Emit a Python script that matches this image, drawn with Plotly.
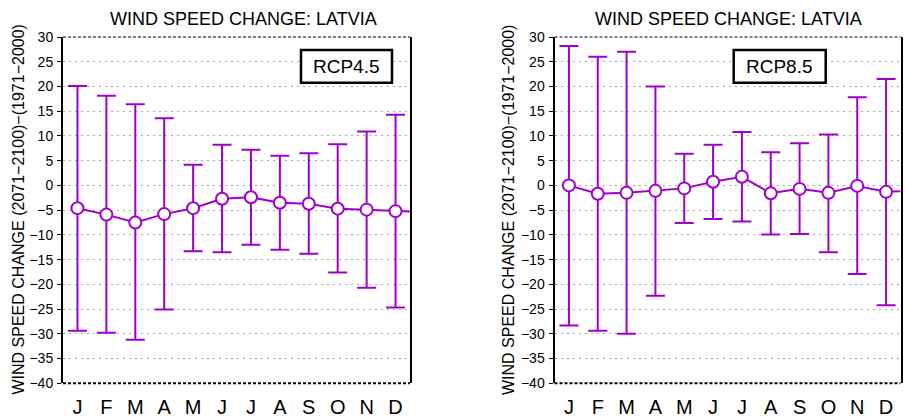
import plotly.graph_objects as go

W, H = 905, 418

months = ["J", "F", "M", "A", "M", "J", "J", "A", "S", "O", "N", "D"]
month_pos = list(range(1, 13))

rcp45_mean = [-4.6, -5.9, -7.5, -5.8, -4.6, -2.7, -2.4, -3.5, -3.7, -4.7, -4.9, -5.2]
rcp45_max = [20.1, 18.1, 16.4, 13.6, 4.2, 8.2, 7.2, 6.0, 6.5, 8.3, 10.9, 14.3]
rcp45_min = [-29.4, -29.8, -31.2, -25.1, -13.3, -13.5, -12.0, -13.0, -13.8, -17.6, -20.7, -24.7]
rcp45_tail = -5.4

rcp85_mean = [0.0, -1.7, -1.5, -1.1, -0.6, 0.75, 1.75, -1.6, -0.7, -1.5, -0.1, -1.3]
rcp85_max = [28.2, 26.0, 27.0, 20.0, 6.4, 8.2, 10.8, 6.7, 8.5, 10.3, 17.8, 21.5]
rcp85_min = [-28.3, -29.4, -30.0, -22.3, -7.6, -6.8, -7.3, -9.9, -9.8, -13.5, -17.9, -24.2]
rcp85_tail = -1.1

ytick_vals = list(range(-40, 31, 5))

PURPLE = "#a000cc"
FONT = "Liberation Sans, Arial, sans-serif"


def px_x(p):
    return p / W


def px_y(p):
    return 1 - p / H


panels = [
    dict(mean=rcp45_mean, mx=rcp45_max, mn=rcp45_min, tail=rcp45_tail, label="RCP4.5",
         xdom=(63, 410), box=(301, 392), title_x=243, ytitle_x=18.5),
    dict(mean=rcp85_mean, mx=rcp85_max, mn=rcp85_min, tail=rcp85_tail, label="RCP8.5",
         xdom=(554.5, 900.5), box=(733.7, 825.7), title_x=728, ytitle_x=509),
]

fig = go.Figure()
ydom = (px_y(383.3), px_y(37))
annotations = []
shapes = []

for i, p in enumerate(panels):
    n = "" if i == 0 else str(i + 1)
    xa, ya = "x" + n, "y" + n
    # connecting line (with continuation beyond the last month)
    fig.add_trace(go.Scatter(
        x=month_pos + [13], y=p["mean"] + [p["tail"]], mode="lines",
        line=dict(color=PURPLE, width=2), xaxis=xa, yaxis=ya, showlegend=False,
        hoverinfo="skip"))
    plus = [a - m for a, m in zip(p["mx"], p["mean"])]
    minus = [m - b for m, b in zip(p["mean"], p["mn"])]
    fig.add_trace(go.Scatter(
        x=month_pos, y=p["mean"], mode="markers",
        marker=dict(size=12, color="white", line=dict(color=PURPLE, width=2)),
        error_y=dict(type="data", array=plus, arrayminus=minus, symmetric=False,
                     color=PURPLE, thickness=2, width=9.5),
        xaxis=xa, yaxis=ya, showlegend=False))

    xkey = "xaxis" + n
    ykey = "yaxis" + n
    fig.update_layout(**{
        xkey: dict(domain=[px_x(p["xdom"][0]), px_x(p["xdom"][1])], range=[0.5, 12.5],
                   tickvals=month_pos, ticktext=months, showgrid=False, zeroline=False,
                   showline=False, ticks="", anchor=ya, ticklabelstandoff=10,
                   automargin=False,
                   tickfont=dict(family=FONT, size=20, color="black")),
        ykey: dict(domain=list(ydom), range=[-40, 30], tickvals=ytick_vals,
                   showgrid=True, gridcolor="#a8a8a8", griddash="2px,4px", gridwidth=1,
                   zeroline=False, showline=True, linecolor="black", linewidth=2,
                   mirror=True, ticks="outside", ticklen=4, tickcolor="black",
                   tickwidth=1, anchor=xa, ticklabelstandoff=1, automargin=False,
                   tickfont=dict(family=FONT, size=14, color="black")),
    })

    # dashed top and bottom frame lines
    shapes.append(dict(type="line", xref=xa + " domain", yref=ya + " domain",
                       x0=0, x1=1, y0=1, y1=1, line=dict(color="black", width=1, dash="3px,2px")))
    shapes.append(dict(type="line", xref=xa + " domain", yref=ya + " domain",
                       x0=0, x1=1, y0=0, y1=0, line=dict(color="black", width=2, dash="3px,2px")))
    # RCP label box
    shapes.append(dict(type="rect", xref="paper", yref="paper",
                       x0=px_x(p["box"][0]), x1=px_x(p["box"][1]),
                       y0=px_y(82.7), y1=px_y(50),
                       line=dict(color="black", width=2.5), fillcolor="white", layer="above"))
    annotations.append(dict(text=p["label"], xref="paper", yref="paper",
                            x=px_x((p["box"][0] + p["box"][1]) / 2), y=px_y(66.3),
                            showarrow=False, xanchor="center", yanchor="middle",
                            font=dict(family=FONT, size=19, color="black")))
    annotations.append(dict(text="WIND SPEED CHANGE: LATVIA", xref="paper", yref="paper",
                            x=px_x(p["title_x"]), y=px_y(19.5), showarrow=False,
                            xanchor="center", yanchor="middle",
                            font=dict(family=FONT, size=18, color="black")))
    annotations.append(dict(text="WIND SPEED CHANGE (2071\u22122100)\u2212(1971\u22122000)",
                            xref="paper", yref="paper", x=px_x(p["ytitle_x"]), y=px_y(210),
                            textangle=-90, showarrow=False, xanchor="center", yanchor="middle",
                            font=dict(family=FONT, size=16, color="black")))

fig.update_layout(template="none", width=W, height=H, margin=dict(l=0, r=0, t=0, b=0, pad=0),
                  paper_bgcolor="white", plot_bgcolor="white",
                  shapes=shapes, annotations=annotations)

fig.write_html("out.html")
